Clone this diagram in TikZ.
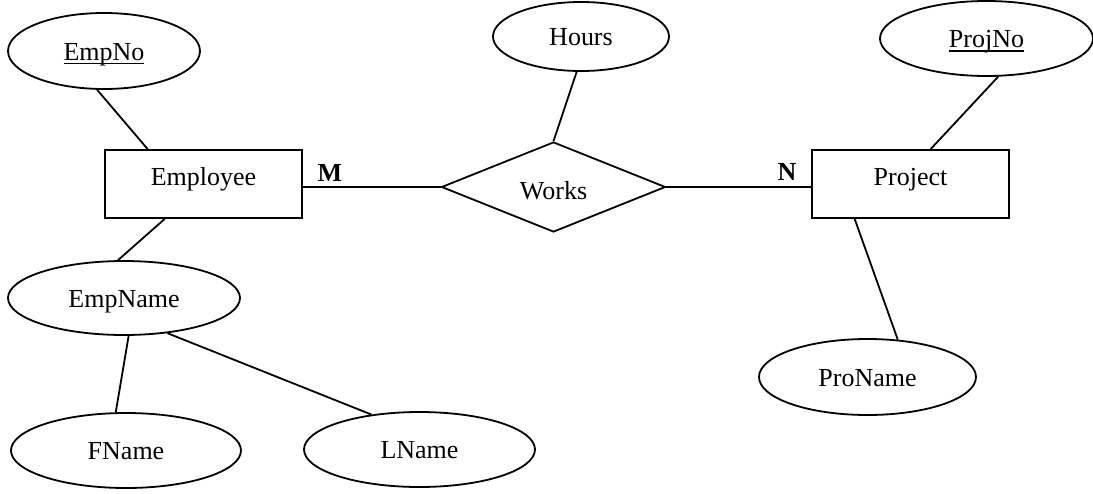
\documentclass[tikz,border=0pt]{standalone}
\usepackage{fontspec}
\setmainfont{Liberation Serif}
\usetikzlibrary{shapes.geometric}

\newcommand{\keytext}[1]{\setbox0=\hbox{#1}\rlap{\rule[-2.2pt]{\wd0}{0.9pt}}\box0}
\tikzset{every path/.style={line width=0.9pt}}
\tikzset{entity/.style={draw, rectangle, inner sep=0pt, minimum width=98.5pt, minimum height=34pt, text height=9pt, text depth=8pt}}
\tikzset{attrib/.style={draw, ellipse, inner sep=0pt, text height=9.5pt, text depth=0.5pt}}
\tikzset{relation/.style={draw, diamond, aspect=2.5, inner sep=0pt, minimum width=112pt, minimum height=45pt, text height=12pt, text depth=0pt}}

\begin{document}
\begin{tikzpicture}[x=0.5pt, y=-0.5pt, font=\fontsize{13}{15}\selectfont]
\useasboundingbox (0,0) rectangle (1093,493);
\node[entity] (employee) at (203.5,184) {Employee};
\node[entity] (project) at (910.5,184) {Project};
\node[relation] (works) at (553.5,187) {Works};
\node[attrib, minimum width=96pt, minimum height=38pt] (empno) at (104,51) {\keytext{EmpNo}};
\node[attrib, minimum width=88pt, minimum height=34.5pt] (hours) at (581,36.5) {Hours};
\node[attrib, minimum width=106.5pt, minimum height=37.5pt] (projno) at (986.5,38.5) {\keytext{ProjNo}};
\node[attrib, minimum width=116pt, minimum height=37pt] (empname) at (124,298) {EmpName};
\node[attrib, minimum width=115pt, minimum height=37.5pt] (fname) at (126,450.5) {FName};
\node[attrib, minimum width=115.5pt, minimum height=37.5pt] (lname) at (419.5,449.5) {LName};
\node[attrib, minimum width=108.5pt, minimum height=38pt] (proname) at (867.5,377) {ProName};
\node (mlabel) at (330,173) {\textbf{M}};
\node (nlabel) at (787,172) {\textbf{N}};
\draw (empno.260) -- (employee.148);
\draw (employee.222) -- (empname.99);
\draw (empname.277) -- (fname.105);
\draw (empname.321) -- (lname.144);
\draw (works.west) -- (works.west -| employee.east);
\draw (works.east) -- (works.east -| project.west);
\draw (hours.263) -- (works.north);
\draw (projno.287) -- (project.60);
\draw (project.212) -- (proname.51);
\end{tikzpicture}
\end{document}
